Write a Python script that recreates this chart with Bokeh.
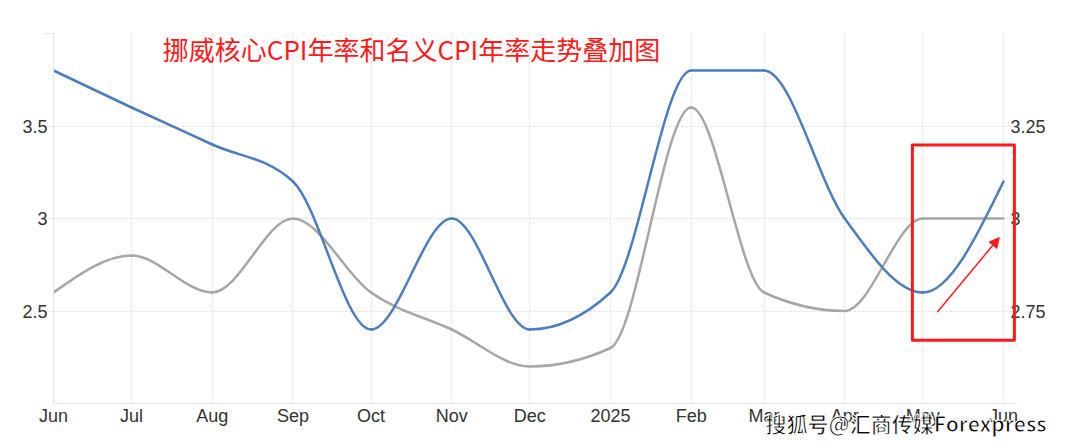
import numpy as np
import pandas as pd
from bokeh.plotting import figure
from bokeh.models import (Range1d, LinearAxis, FixedTicker, Label, PolyAnnotation,
                          Arrow, NormalHead)
from bokeh.embed import file_html
from bokeh.resources import INLINE

# ---------------- data ----------------
months = ["2024-06-01", "2024-07-01", "2024-08-01", "2024-09-01", "2024-10-01",
          "2024-11-01", "2024-12-01", "2025-01-01", "2025-02-01", "2025-03-01",
          "2025-04-01", "2025-05-01", "2025-06-01"]
tick_labels = ["Jun", "Jul", "Aug", "Sep", "Oct", "Nov", "Dec", "2025",
               "Feb", "Mar", "Apr", "May", "Jun"]
# core CPI y/y (right axis), headline CPI y/y (left axis)
core_cpi = [3.4, 3.3, 3.2, 3.1, 2.7, 3.0, 2.7, 2.8, 3.4, 3.4, 3.0, 2.8, 3.1]
headline_cpi = [2.6, 2.8, 2.6, 3.0, 2.6, 2.4, 2.2, 2.3, 3.6, 2.6, 2.5, 3.0, 3.0]
left_ticks = [2.5, 3, 3.5, 4]
left_tick_labels = ["2.5", "3", "3.5", ""]
right_ticks = [2.75, 3, 3.25, 3.5]
right_tick_labels = ["2.75", "3", "3.25", ""]
title_text = "挪威核心CPI年率和名义CPI年率走势叠加图"
watermark_text = "搜狐号@汇商传媒Forexpress"

# ---------------- helpers ----------------
origin = pd.Timestamp(months[0])
xdays = [int((pd.Timestamp(m) - origin).days) for m in months]


def day(date_str, frac=0.0):
    return (pd.Timestamp(date_str) - origin).days + frac


def monotone_beziers(x, y):
    """Monotone cubic (d3 curveMonotoneX) as Bezier control points."""
    x = np.asarray(x, dtype=float)
    y = np.asarray(y, dtype=float)
    n = len(x)
    h = np.diff(x)
    s = np.diff(y) / h
    t = np.zeros(n)
    for i in range(1, n - 1):
        p = (s[i - 1] * h[i] + s[i] * h[i - 1]) / (h[i - 1] + h[i])
        sg = (1 if s[i - 1] >= 0 else -1) + (1 if s[i] >= 0 else -1)
        t[i] = sg * min(abs(s[i - 1]), abs(s[i]), 0.5 * abs(p))
    t[0] = (3 * s[0] - t[1]) / 2
    t[-1] = (3 * s[-1] - t[-2]) / 2
    dx = h / 3
    return dict(x0=x[:-1], y0=y[:-1], x1=x[1:], y1=y[1:],
                cx0=x[:-1] + dx, cy0=y[:-1] + dx * t[:-1],
                cx1=x[1:] - dx, cy1=y[1:] - dx * t[1:])


# ---------------- figure ----------------
W, H = 1062, 444
p = figure(width=W, height=H, output_backend="svg", toolbar_location=None,
           x_range=Range1d(xdays[0], xdays[-1] + 5), y_range=Range1d(2, 4),
           min_border_left=53, min_border_right=46, min_border_top=33,
           min_border_bottom=41)
p.extra_y_ranges = {"right": Range1d(2.5, 3.5)}
p.outline_line_color = None
p.background_fill_color = "white"
p.border_fill_color = "white"

LABEL_FONT = "Liberation Sans"
LABEL_COLOR = "#333333"
AXIS_COLOR = "#e4e4e4"
FS = "18px"

xa = p.below[0]
xa.ticker = FixedTicker(ticks=xdays)
xa.major_label_overrides = dict(zip(xdays, tick_labels))
xa.axis_line_color = AXIS_COLOR
xa.major_tick_out = 0
xa.major_tick_in = 0
xa.minor_tick_line_color = None
xa.major_label_standoff = 2
xa.major_label_text_font = LABEL_FONT
xa.major_label_text_font_size = FS
xa.major_label_text_color = LABEL_COLOR

ya = p.left[0]
ya.ticker = FixedTicker(ticks=left_ticks)
ya.major_label_overrides = dict(zip(left_ticks, left_tick_labels))
ya.axis_line_color = AXIS_COLOR
ya.major_tick_out = 10
ya.major_tick_in = 0
ya.major_tick_line_color = "#e8e8e8"
ya.minor_tick_line_color = None
ya.major_label_standoff = -4
ya.major_label_text_font = LABEL_FONT
ya.major_label_text_font_size = FS
ya.major_label_text_color = LABEL_COLOR

ra = LinearAxis(y_range_name="right", ticker=FixedTicker(ticks=right_ticks),
                major_label_overrides=dict(zip(right_ticks, right_tick_labels)))
ra.axis_line_color = None
ra.major_tick_out = 0
ra.major_tick_in = 0
ra.major_tick_line_color = None
ra.minor_tick_line_color = None
ra.major_label_standoff = -6
ra.major_label_text_font = LABEL_FONT
ra.major_label_text_font_size = FS
ra.major_label_text_color = LABEL_COLOR
p.add_layout(ra, "right")

for g in (p.xgrid[0], p.ygrid[0]):
    g.grid_line_color = "#dcdcdc"
    g.grid_line_dash = "2 2"
    g.grid_line_width = 1

# ---------------- series ----------------
gray = monotone_beziers(xdays, headline_cpi)
p.bezier(source=gray, x0="x0", y0="y0", x1="x1", y1="y1", cx0="cx0", cy0="cy0",
         cx1="cx1", cy1="cy1", line_color="#a6a6a6", line_width=2.5,
         line_cap="round")

blue = monotone_beziers(xdays, core_cpi)
p.bezier(source=blue, x0="x0", y0="y0", x1="x1", y1="y1", cx0="cx0", cy0="cy0",
         cx1="cx1", cy1="cy1", line_color="#4a7ebf", line_width=2.5,
         line_cap="round", y_range_name="right")

# ---------------- annotations ----------------
p.add_layout(Label(x=day("2024-07-13"), y=3.918, text=title_text,
                   text_font="Noto Sans CJK SC", text_font_size="26px",
                   text_color="#ff1a1a", text_baseline="middle",
                   text_align="left"))

bx0, bx1 = day("2025-04-27"), day("2025-06-05", 0.2)
by0, by1 = 2.342, 3.397
p.add_layout(PolyAnnotation(xs=[bx0, bx1, bx1, bx0], ys=[by1, by1, by0, by0],
                            fill_alpha=0, line_color="#ff1a1a", line_alpha=1.0,
                            line_width=3, line_join="round"))

p.add_layout(Arrow(end=NormalHead(size=10, fill_color="#ff1a1a",
                                  line_color="#ff1a1a"),
                   x_start=day("2025-05-06", 0.6), y_start=2.495,
                   x_end=day("2025-05-30", 0.4), y_end=2.897,
                   line_color="#ff1a1a", line_width=1.5))

# watermark: lives in a side panel so it is not clipped to the plot frame
wm_kw = dict(x=day("2025-03-01", 0.6), y=1.897, text=watermark_text,
             text_font="Noto Sans CJK SC", text_font_size="21px",
             text_font_style="bold",
             text_color="#000000", text_baseline="middle", text_align="left")
if "text_outline_color" in Label.properties():
    wm_kw["text_outline_color"] = "white"
p.add_layout(Label(**wm_kw), "above")

open("out.html", "w").write(file_html(p, INLINE))
